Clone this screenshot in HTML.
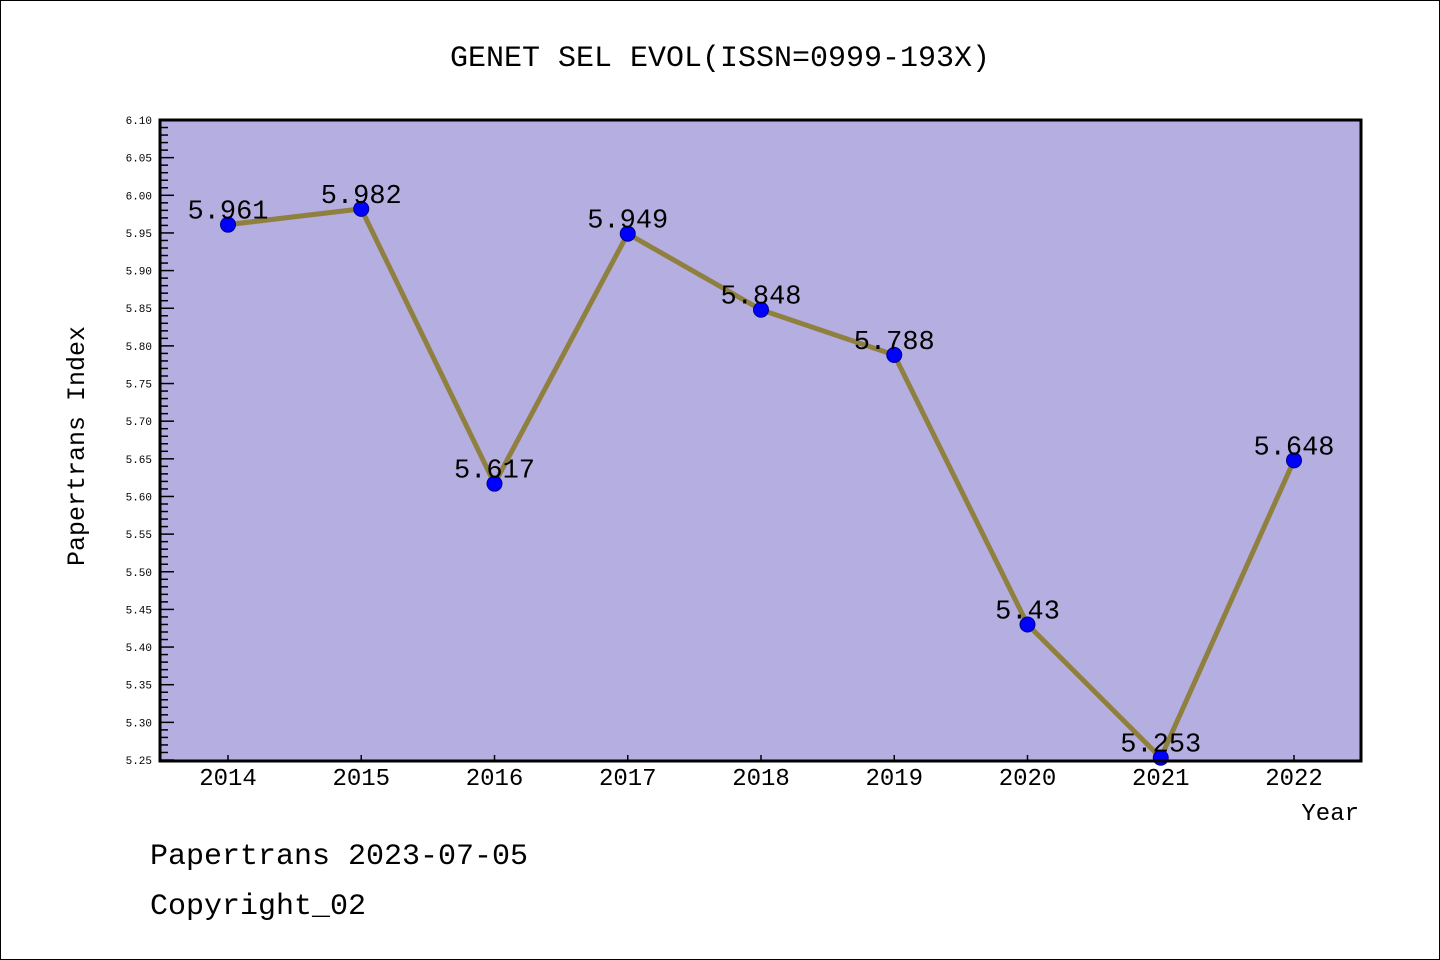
<!DOCTYPE html>
<html><head><meta charset="utf-8"><style>
body{margin:0;background:#fff}
svg{display:block}
text{font-family:"Liberation Mono",monospace}
</style></head><body>
<svg id="chart" width="1440" height="960" xmlns="http://www.w3.org/2000/svg">
<rect x="0.5" y="0.5" width="1439" height="959" fill="#fff" stroke="#000"/>
<text x="720" y="66" font-size="30" text-anchor="middle">GENET SEL EVOL(ISSN=0999-193X)</text>
<rect x="160" y="120" width="1201" height="641" fill="#b5aee1"/>
<g id="ticks"></g>
<g id="series"></g>
<rect x="160" y="120" width="1201" height="641" fill="none" stroke="#000" stroke-width="3"/>
<text transform="translate(84,446) rotate(-90)" font-size="25" text-anchor="middle">Papertrans Index</text>
<text x="1359" y="820" font-size="24" text-anchor="end">Year</text>
<text x="150" y="864" font-size="30">Papertrans 2023-07-05</text>
<text x="150" y="914" font-size="30">Copyright_02</text>
</svg>
<script>
const years=["2014","2015","2016","2017","2018","2019","2020","2021","2022"];
const values=[5.961,5.982,5.617,5.949,5.848,5.788,5.43,5.253,5.648];
const valueLabels=["5.961","5.982","5.617","5.949","5.848","5.788","5.43","5.253","5.648"];
const yTicks=["5.25","5.30","5.35","5.40","5.45","5.50","5.55","5.60","5.65","5.70","5.75","5.80","5.85","5.90","5.95","6.00","6.05","6.10"];
const yMin=5.25,yMax=6.10;
const NS="http://www.w3.org/2000/svg";
function yS(v){return 760-(v-yMin)/(yMax-yMin)*640;}
function xS(i){return 228+i*133.25;}
function mk(tag,attrs,parent){const e=document.createElementNS(NS,tag);for(const k in attrs)e.setAttribute(k,attrs[k]);parent.appendChild(e);return e;}
const tg=document.getElementById('ticks');
for(let k=0;k<=85;k++){
  const v=yMin+k*0.01,y=yS(v),major=k%5===0;
  const l=mk('line',{x1:160,x2:major?174:168,y1:y,y2:y,stroke:'#000','stroke-width':1.5},tg);
  
  
}
yTicks.forEach(t=>{
  const e=mk('text',{x:152,y:yS(parseFloat(t))+4,'font-size':11,'text-anchor':'end','font-family':'Liberation Sans, sans-serif'},tg);
  e.textContent=t;
  
  
});
years.forEach((yr,i)=>{
  const l=mk('line',{x1:xS(i),x2:xS(i),y1:761,y2:755,stroke:'#000','stroke-width':1.5},tg);
  
  
  const e=mk('text',{x:xS(i),y:785,'font-size':24,'text-anchor':'middle'},tg);
  e.textContent=yr;
  
  
});
const sg=document.getElementById('series');
const pts=values.map((v,i)=>xS(i)+','+yS(v)).join(' ');
const pl=mk('polyline',{points:pts,fill:'none',stroke:'#8f8040','stroke-width':5},sg);


values.forEach((v,i)=>{
  const c=mk('circle',{cx:xS(i),cy:yS(v),r:7.5,fill:'#0000ff',stroke:'#00008b','stroke-width':1},sg);
  
  
  const t=mk('text',{x:xS(i),y:yS(v)-6,'font-size':27,'text-anchor':'middle'},sg);
  t.textContent=valueLabels[i];
  
  
});
</script>
</body></html>
